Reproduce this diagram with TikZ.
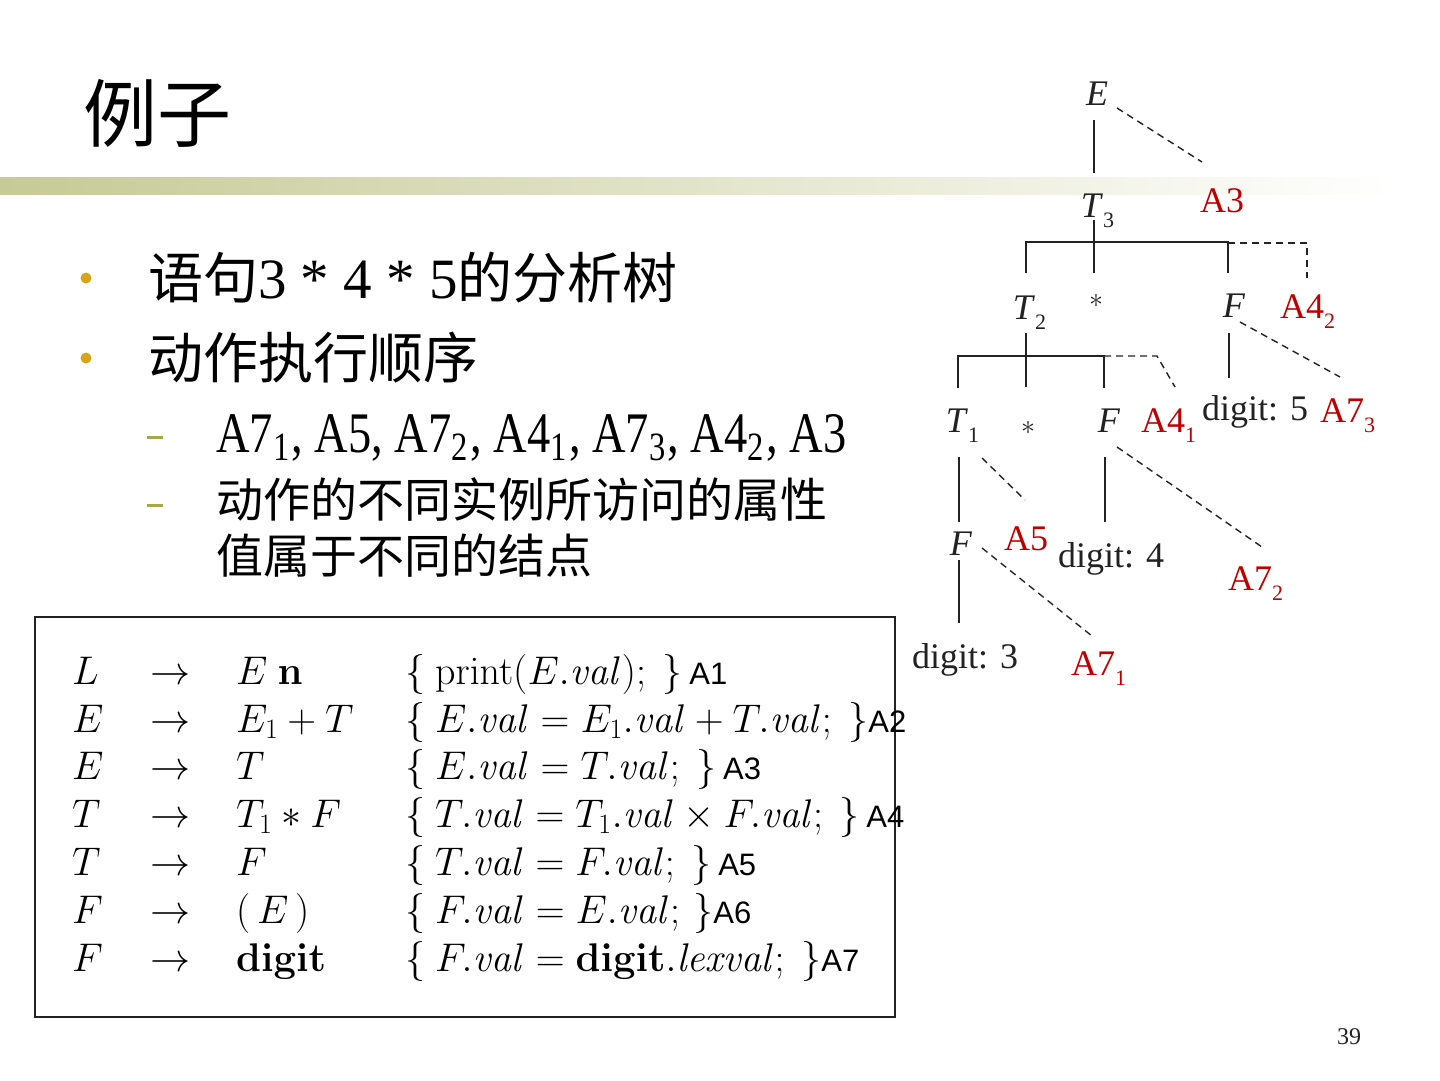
\RequirePackage{fix-cm}
\documentclass[tikz,border=0pt]{standalone}
\usepackage[no-math]{fontspec}
\setmainfont{Liberation Serif}
\newfontfamily\cjk{Noto Sans CJK SC}
\newfontfamily\asans{Liberation Sans}
\usetikzlibrary{calc}
\definecolor{barc}{HTML}{C6CA95}
\definecolor{gold}{HTML}{D4A514}
\definecolor{olivec}{HTML}{A8A84A}
\definecolor{ared}{HTML}{C00000}
\definecolor{ink}{HTML}{222222}
\newcommand\sbs[1]{\raisebox{-0.28em}{\fontsize{22}{24}\selectfont #1}}
\newcommand\albl[1]{{\asans\fontsize{31}{34}\selectfont #1}}
\begin{document}
\begin{tikzpicture}[x=1pt,y=-1pt,
  tn/.style={font=\fontsize{36}{40}\selectfont, text=ink, inner sep=0pt, text height=24pt, text depth=0pt},
  an/.style={tn, text=ared},
  solidl/.style={draw=ink, line width=1.6pt},
  dashl/.style={draw=ink, line width=1.4pt, dash pattern=on 7pt off 5pt},
  tabt/.style={font=\fontsize{40}{44}\selectfont, text=black, inner sep=0pt, anchor=base west},
  body/.style={anchor=west, inner sep=0pt, text=black},
  bul/.style={circle, fill=gold, minimum size=11pt, inner sep=0pt},
  dsh/.style={fill=olivec, minimum width=16pt, minimum height=3pt, inner sep=0pt}]
\useasboundingbox (0,0) rectangle (1440,1080);
\fill[white] (0,0) rectangle (1440,1080);
% header bar
\shade[left color=barc, right color=white] (0,177) rectangle (1395,194);
% title
\node[body, font=\cjk\fontsize{74}{80}\selectfont] (title) at (83,113) {例子};
% bullets
\node[bul] (b1) at (86,278) {};
\node[bul] (b2) at (86,358) {};
\node[body] (l1) at (148,278) {\cjk\fontsize{55}{60}\selectfont 语句{\rmfamily\fontsize{57}{60}\selectfont 3 * 4 * 5}的分析树};
\node[body] (l2) at (148,358) {\cjk\fontsize{55}{60}\selectfont 动作执行顺序};
\node[dsh] (d1) at (155,437) {};
\node[dsh] (d2) at (155,505) {};
\node[anchor=base west, inner sep=0pt, text=black] (l3) at (216,452) {\resizebox{630pt}{38pt}{A7\textsubscript{1}, A5, A7\textsubscript{2}, A4\textsubscript{1}, A7\textsubscript{3}, A4\textsubscript{2}, A3}};
\node[body] (l4) at (216,500) {\cjk\fontsize{47}{52}\selectfont 动作的不同实例所访问的属性};
\node[body] (l5) at (216,556) {\cjk\fontsize{47}{52}\selectfont 值属于不同的结点};
% table
\node[draw=ink, line width=2pt, minimum width=860pt, minimum height=400pt, inner sep=0pt] (tbl) at (465,817) {};
\node[tabt] (r1l) at (72,684) {$L$};
\node[tabt] (r1a) at (150,684) {$\rightarrow$};
\node[tabt] (r1r) at (236,684) {$E\ \mathbf{n}$};
\node[tabt] (r1c) at (405,684) {$\{\ \mathrm{print}(E.\mathit{val});\ \}$\,\albl{A1}};
\node[tabt] (r2l) at (72,732) {$E$};
\node[tabt] (r2a) at (150,732) {$\rightarrow$};
\node[tabt] (r2r) at (236,732) {$E_1+T$};
\node[tabt] (r2c) at (405,732) {$\{\ E.\mathit{val}=E_1.\mathit{val}+T.\mathit{val};\ \}$\albl{A2}};
\node[tabt] (r3l) at (72,779) {$E$};
\node[tabt] (r3a) at (150,779) {$\rightarrow$};
\node[tabt] (r3r) at (236,779) {$T$};
\node[tabt] (r3c) at (405,779) {$\{\ E.\mathit{val}=T.\mathit{val};\ \}$\,\albl{A3}};
\node[tabt] (r4l) at (72,827) {$T$};
\node[tabt] (r4a) at (150,827) {$\rightarrow$};
\node[tabt] (r4r) at (236,827) {$T_1*F$};
\node[tabt] (r4c) at (405,827) {$\{\ T.\mathit{val}=T_1.\mathit{val}\times F.\mathit{val};\ \}$\,\albl{A4}};
\node[tabt] (r5l) at (72,875) {$T$};
\node[tabt] (r5a) at (150,875) {$\rightarrow$};
\node[tabt] (r5r) at (236,875) {$F$};
\node[tabt] (r5c) at (405,875) {$\{\ T.\mathit{val}=F.\mathit{val};\ \}$\,\albl{A5}};
\node[tabt] (r6l) at (72,923) {$F$};
\node[tabt] (r6a) at (150,923) {$\rightarrow$};
\node[tabt] (r6r) at (236,923) {$(\,E\,)$};
\node[tabt] (r6c) at (405,923) {$\{\ F.\mathit{val}=E.\mathit{val};\,\}$\albl{A6}};
\node[tabt] (r7l) at (72,971) {$F$};
\node[tabt] (r7a) at (150,971) {$\rightarrow$};
\node[tabt] (r7r) at (236,971) {$\mathbf{digit}$};
\node[tabt] (r7c) at (405,971) {$\{\ F.\mathit{val}=\mathbf{digit}.\mathit{lexval};\ \}$\albl{A7}};
% tree nodes
\node[tn] (E) at (1097,93) {\textit{E}};
\node[tn] (T3) at (1092,205) {\textit{T}\rlap{\sbs{3}}};
\node[an] (A3) at (1222,200) {A3};
\node[tn] (T2) at (1024,307) {\textit{T}\rlap{\sbs{2}}};
\node[tn] (s1) at (1096,295) {\fontsize{28}{30}\selectfont$*$};
\node[tn] (F3) at (1234,305) {\textit{F}};
\node[an] (A42) at (1302,306) {A4\rlap{\sbs{2}}};
\node[tn] (T1) at (957,420) {\textit{T}\rlap{\sbs{1}}};
\node[tn] (s2) at (1028,422) {\fontsize{28}{30}\selectfont$*$};
\node[tn] (F2) at (1109,420) {\textit{F}};
\node[an] (A41) at (1163,420) {A4\rlap{\sbs{1}}};
\node[tn] (d5) at (1255,408) {digit: 5};
\node[an] (A73) at (1342,410) {A7\rlap{\sbs{3}}};
\node[tn] (F1) at (961,543) {\textit{F}};
\node[an] (A5) at (1026,538) {A5};
\node[tn] (d4) at (1111,555) {digit: 4};
\node[an] (A72) at (1250,578) {A7\rlap{\sbs{2}}};
\node[tn] (d3) at (965,656) {digit: 3};
\node[an] (A71) at (1093,663) {A7\rlap{\sbs{1}}};
% tree edges
\draw[solidl] ($(E)+(-3,27)$) -- ($(T3)+(2,-32)$);
\draw[dashl] ($(E)+(20,15)$) -- ($(A3)+(-20,-38)$);
\draw[solidl] ($(T3)+(2,15)$) -- ($(s1)+(-2,-22)$);
\draw[solidl] ($(T2)+(2,-34)$) |- ($(F3)+(-6,-63)$) -- ($(F3)+(-6,-32)$);
\draw[dashl] ($(F3)+(-6,-62)$) -| ($(A42)+(5,-28)$);
\draw[solidl] ($(F3)+(-5,28)$) -- ($(d5)+(-26,-30)$);
\draw[dashl] ($(F3)+(6,17)$) -- ($(A73)+(-2,-33)$);
\draw[solidl] ($(T2)+(2,26)$) -- ($(s2)+(-2,-35)$);
\draw[solidl] ($(T1)+(1,-32)$) |- ($(F2)+(-5,-64)$) -- ($(F2)+(-5,-32)$);
\draw[dashl] ($(F2)+(-5,-64)$) -- ($(F2)+(48,-64)$) -- ($(A41)+(12,-33)$);
\draw[solidl] ($(T1)+(2,37)$) -- ($(F1)+(-2,-21)$);
\draw[dashl] ($(T1)+(25,38)$) -- ($(A5)+(-1,-38)$);
\draw[solidl] ($(F2)+(-4,37)$) -- ($(d4)+(-6,-33)$);
\draw[dashl] ($(F2)+(8,27)$) -- ($(A72)+(12,-31)$);
\draw[solidl] ($(F1)+(-2,17)$) -- ($(d3)+(-6,-33)$);
\draw[dashl] ($(F1)+(21,5)$) -- ($(A71)+(-1,-27)$);
% page number
\node[font=\fontsize{24}{26}\selectfont, text=ink, inner sep=0pt] (pg) at (1349,1037) {39};
\end{tikzpicture}
\end{document}
